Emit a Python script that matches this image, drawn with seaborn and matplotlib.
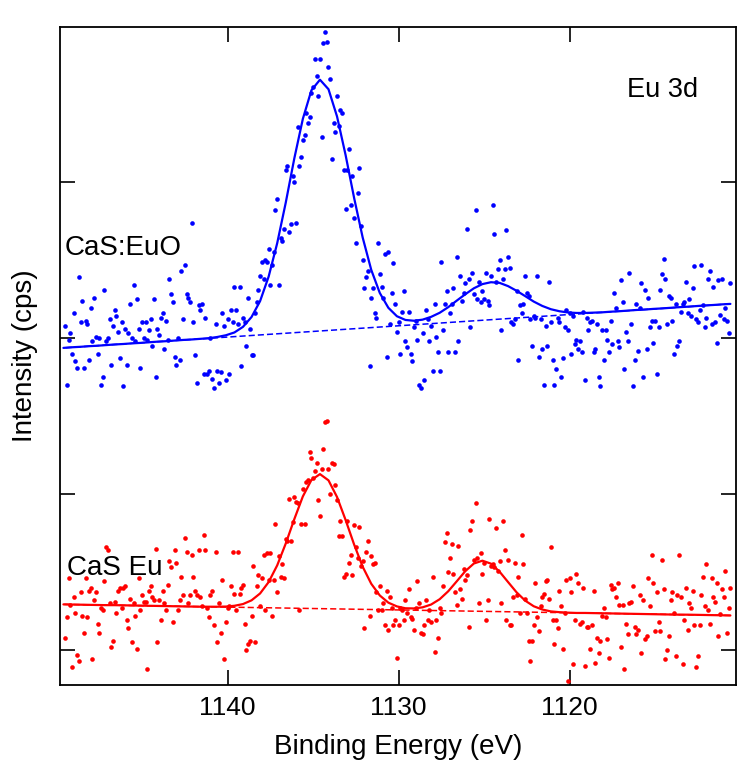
import numpy as np
import pandas as pd
import seaborn as sns
import matplotlib.pyplot as plt

# Eu 3d XPS spectra, intensity in arbitrary units (one y tick = 100)
blue_counts = [
    208, 170, 199, 203, 190, 216, 185, 181, 239, 210,
    224, 181, 211, 209, 186, 219, 198, 226, 201, 190,
    200, 170, 175, 231, 198, 200, 212, 183, 208, 218,
    214, 204, 187, 210, 169, 206, 183, 203, 222, 200,
    234, 198, 225, 206, 181, 210, 200, 210, 199, 205,
    212, 195, 225, 175, 206, 202, 213, 216, 193, 211,
    199, 238, 228, 223, 188, 183, 200, 186, 243, 212,
    247, 228, 226, 223, 274, 210, 189, 171, 221, 218,
    222, 177, 213, 177, 179, 200, 174, 168, 209, 179,
    171, 178, 216, 208, 173, 212, 177, 218, 210, 233,
    218, 209, 233, 182, 213, 210, 195, 226, 206, 189,
    189, 216, 223, 231, 240, 249, 238, 250, 249, 257,
    234, 247, 255, 282, 289, 234, 264, 262, 270, 308,
    310, 268, 273, 304, 300, 274, 335, 310, 316, 327,
    330, 344, 338, 342, 357, 361, 379, 368, 355, 379,
    329, 389, 396, 390, 374, 366, 315, 338, 332, 355,
    336, 346, 344, 308, 283, 308, 321, 285, 304, 277,
    261, 293, 309, 272, 250, 232, 239, 243, 182, 226,
    232, 216, 213, 261, 241, 233, 226, 254, 188, 255,
    209, 229, 248, 222, 204, 210, 190, 217, 230, 198,
    194, 217, 190, 185, 207, 211, 199, 170, 168, 203,
    173, 218, 212, 198, 208, 179, 222, 201, 191, 179,
    249, 205, 222, 230, 191, 216, 222, 232, 191, 252,
    198, 240, 224, 229, 235, 270, 238, 207, 242, 228,
    282, 225, 236, 223, 230, 225, 242, 224, 221, 240,
    285, 267, 236, 244, 250, 205, 238, 244, 269, 252,
    245, 210, 209, 212, 230, 186, 221, 216, 222, 240,
    229, 227, 212, 195, 214, 213, 240, 188, 212, 193,
    170, 208, 195, 236, 210, 186, 170, 180, 213, 210,
    175, 187, 207, 218, 205, 216, 190, 214, 196, 199,
    193, 198, 191, 217, 173, 213, 205, 210, 211, 191,
    193, 209, 175, 169, 205, 186, 205, 199, 191, 211,
    196, 229, 219, 198, 194, 237, 223, 180, 204, 198,
    242, 209, 169, 186, 222, 192, 219, 235, 175, 231,
    193, 226, 207, 211, 197, 211, 177, 207, 231, 241,
    251, 238, 209, 227, 226, 211, 190, 222, 195, 198,
    217, 222, 223, 236, 216, 225, 214, 232, 246, 212,
    210, 218, 247, 221, 207, 213, 238, 243, 209, 233,
    210, 197, 237, 215, 238, 212, 219, 211, 203, 235,
]

red_counts = [
    8, 21, 46, 29, -11, 34, 24, -3, -7, 37,
    22, 11, 46, 21, 38, 40, -6, 32, 37, 17,
    11, 27, 26, 44, 66, 64, 30, 2, 6, 31,
    24, 38, 40, 27, 40, 41, 19, 14, 33, 5,
    30, 22, 1, 46, 26, 35, 31, 31, -12, 38,
    41, 34, 32, 65, 5, 32, 19, 38, 30, 26,
    42, 57, 53, 18, 64, 56, 26, 32, 47, 35,
    72, 63, 30, 35, 61, 47, 38, 35, 64, 34,
    28, 74, 64, 27, 21, 35, 38, 16, 63, 5,
    30, 11, 45, -6, 18, 27, 28, 41, 63, 36,
    26, 63, 36, 40, 42, 17, 0, 4, 6, 22,
    54, 5, 41, 48, 28, 46, 61, 26, 62, 45,
    62, 22, 45, 81, 37, 60, 47, 55, 46, 71,
    70, 97, 70, 82, 98, 95, 94, 26, 81, 103,
    81, 108, 109, 127, 123, 110, 115, 120, 96, 86,
    116, 129, 146, 147, 116, 100, 120, 119, 106, 96,
    73, 83, 73, 47, 49, 83, 56, 61, 48, 80,
    66, 59, 79, 54, 57, 14, 63, 70, 22, 60,
    55, 56, 37, 26, 41, 26, 30, 16, 38, 13,
    34, 27, 16, 19, -5, 16, 27, 26, 19, 32,
    24, 39, 21, 20, 13, 27, 44, 30, 11, 10,
    16, 32, 19, 26, 18, 47, -1, 19, 8, 27,
    24, 41, 69, 75, 50, 59, 68, 49, 37, 29,
    67, 39, 33, 52, 45, 48, 15, 77, 83, 58,
    94, 59, 30, 62, 49, 56, 19, 32, 84, 54,
    55, 53, 78, 51, 57, 30, 83, 64, 19, 58,
    16, 16, 34, 56, 35, 47, 24, 74, 55, 33,
    24, 6, -7, 6, 16, 43, 21, 12, 28, 34,
    36, 44, 45, 33, 66, 19, 4, 19, 14, 38,
    28, 1, 24, 45, -20, 46, 37, -9, 19, 49,
    43, 17, 18, 40, -10, 15, 15, 1, 16, 38,
    -8, 8, -2, 6, 22, 27, 21, 7, -5, 42,
    39, 40, 34, 43, 29, 2, 29, -12, 17, 10,
    30, 31, 41, 15, 10, 13, 35, -2, 32, 7,
    9, 46, 28, 61, 43, 12, 37, 18, 12, 58,
    39, -6, 0, 9, 32, 37, 24, -4, 35, 61,
    34, -9, 19, 40, 13, 30, 27, 38, 16, -11,
    -4, 16, 35, 47, 28, 55, 26, 17, 46, 34,
    31, 43, 9, 23, 39, 34, 51, 11, 27, 40,
]

# fitted envelopes, read every 0.5 eV
blue_fit = [
    193.7, 194.1, 194.4, 194.8, 195.1, 195.5, 195.9, 196.2, 196.6, 196.9,
    197.3, 197.7, 198.0, 198.4, 198.8, 199.1, 199.5, 199.9, 200.7, 201.8,
    203.6, 207.2, 213.5, 223.7, 239.4, 260.8, 286.8, 315.1, 340.5, 358.8,
    365.6, 359.5, 342.0, 317.3, 289.7, 264.4, 243.7, 228.9, 219.4, 214.0,
    211.6, 211.1, 211.8, 213.6, 216.2, 219.8, 224.0, 228.1, 231.9, 234.6,
    235.8, 235.4, 233.3, 230.3, 226.9, 223.4, 220.6, 218.5, 217.2, 216.4,
    216.1, 216.1, 216.3, 216.5, 216.9, 217.2, 217.6, 218.0, 218.3, 218.7,
    219.0, 219.4, 219.8, 220.1, 220.5, 220.9, 221.2, 221.6, 221.9,
]
red_fit = [
    29.3, 29.2, 29.1, 29.0, 28.9, 28.8, 28.8, 28.7, 28.6, 28.5,
    28.4, 28.3, 28.2, 28.1, 28.0, 27.9, 27.8, 27.8, 27.8, 27.9,
    28.4, 29.5, 31.9, 36.3, 43.6, 54.3, 68.3, 83.9, 98.5, 109.0,
    112.8, 108.8, 98.1, 83.4, 67.6, 53.4, 42.5, 35.0, 30.4, 28.0,
    26.8, 26.7, 27.4, 29.2, 32.6, 37.7, 44.1, 50.6, 55.5, 57.3,
    55.4, 50.3, 43.6, 37.0, 31.7, 28.1, 26.0, 24.8, 24.3, 24.0,
    23.8, 23.8, 23.7, 23.6, 23.5, 23.4, 23.3, 23.2, 23.1, 23.0,
    22.9, 22.8, 22.7, 22.7, 22.6, 22.5, 22.4, 22.3, 22.2,
]

# linear backgrounds (end points)
base_energy = [1149.6, 1110.6]
blue_base = [193.7, 221.9]
red_base = [29.3, 22.2]

x_ticks = [1140, 1130, 1120]

# energy grids of the measurement and of the fit
blue_energy = np.linspace(1149.5, 1110.6, len(blue_counts))
red_energy = np.linspace(1149.5, 1110.6, len(red_counts))
fit_energy = np.linspace(1149.6, 1110.6, len(blue_fit))

df_blue = pd.DataFrame({'E': blue_energy, 'I': blue_counts})
df_red = pd.DataFrame({'E': red_energy, 'I': red_counts})

sns.set_style('ticks')
plt.rcParams['font.family'] = ['Liberation Sans', 'DejaVu Sans']
for key in ['text.color', 'axes.labelcolor', 'xtick.color', 'ytick.color']:
    plt.rcParams[key] = 'black'

fig = plt.figure(figsize=(7.5, 7.71), dpi=100)
ax = fig.add_axes([0.08, 0.1115, 0.9007, 0.8535])

# dashed backgrounds first, solid fits on top
sns.lineplot(x=base_energy, y=blue_base, color='blue', lw=1.1, linestyle=(0, (4, 2)), ax=ax)
sns.lineplot(x=base_energy, y=red_base, color='red', lw=1.1, linestyle=(0, (4, 2)), ax=ax)

sns.scatterplot(data=df_blue, x='E', y='I', color='blue', s=11, linewidth=0, ax=ax)
sns.scatterplot(data=df_red, x='E', y='I', color='red', s=11, linewidth=0, ax=ax)

sns.lineplot(x=fit_energy, y=blue_fit, color='blue', lw=1.6, ax=ax)
sns.lineplot(x=fit_energy, y=red_fit, color='red', lw=1.6, ax=ax)

ax.set_xlim(1149.8, 1110.3)
ax.set_ylim(-22.4, 399.4)
ax.set_xticks(x_ticks)
ax.set_yticks([0, 100, 200, 300])
ax.tick_params(direction='in', length=11, width=1.2, top=True, right=True,
               labelsize=19, pad=8, labelleft=False)
for sp in ax.spines.values():
    sp.set_linewidth(1.3)
    sp.set_color('black')

ax.set_xlabel('Binding Energy (eV)', fontsize=20, labelpad=10)
ax.set_ylabel('Intensity (cps)', fontsize=20, labelpad=16)

ax.text(1149.53, 253, 'CaS:EuO', fontsize=20, ha='left', va='baseline')
ax.text(1149.4, 48, 'CaS Eu', fontsize=20, ha='left', va='baseline')
ax.text(1116.67, 354.5, 'Eu 3d', fontsize=19.5, ha='left', va='baseline')

fig.savefig('out.png', dpi=100)
